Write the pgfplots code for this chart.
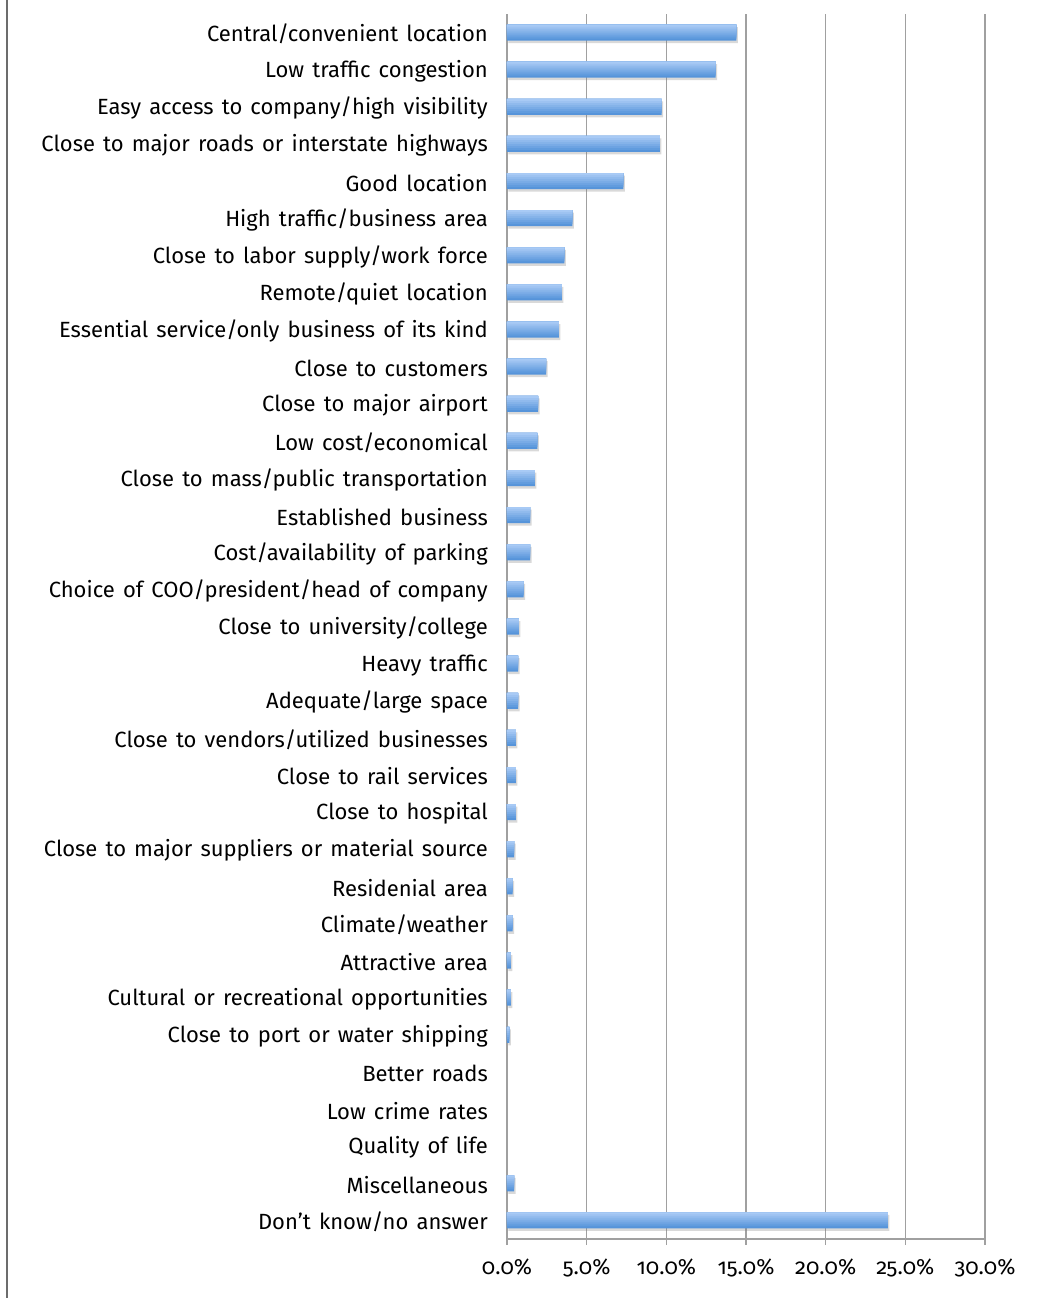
\documentclass[border=0pt]{standalone}
\usepackage{fontspec}
\setmainfont{Fira Sans}[WordSpace=1.4]
\newfontfamily\numfont{Fira Sans}[Numbers=OldStyle]
\usepackage{pgfplots}
\pgfplotsset{compat=1.18}
\usepackage{pgfplotstable}
\usetikzlibrary{shadows}
\definecolor{gridgray}{RGB}{160,160,160}
\definecolor{bartop}{RGB}{168,202,245}
\definecolor{barbot}{RGB}{86,148,218}

\pgfplotstableread{
idx val
0 14.4
1 13.1
2 9.7
3 9.6
4 7.3
5 4.1
6 3.6
7 3.45
8 3.25
9 2.45
10 1.95
11 1.9
12 1.75
13 1.45
14 1.45
15 1.05
16 0.75
17 0.7
18 0.7
19 0.55
20 0.55
21 0.55
22 0.45
23 0.35
24 0.35
25 0.25
26 0.25
27 0.15
28 0
29 0
30 0
31 0.45
32 23.9
}\datatable

\begin{document}
\begin{tikzpicture}
\useasboundingbox (-507pt,-59pt) rectangle (542pt,1239pt);
\draw[gray!85!black, line width=1.5pt] (-500pt,-59pt) -- (-500pt,1239pt);
\begin{axis}[
  at={(0pt,0pt)}, anchor=south west,
  scale only axis, width=478pt, height=1225pt,
  xmin=0, xmax=30, ymin=-0.5, ymax=32.5, y dir=reverse,
  axis lines*=left,
  axis line style={gridgray, line width=1.5pt},
  xtick={0,5,...,30},
  xmajorgrids, grid style={gridgray, line width=1.5pt},
  tick align=outside,
  major tick length=6pt,
  xtick style={gridgray, line width=1.5pt},
  ytick={0,...,32},
  ytick style={draw=none},
  minor ytick={-0.5,0.5,...,32.5},
  minor tick length=6pt,
  minor tick style={gridgray, line width=1.5pt},
  yticklabels={
    Central/convenient location,
    Low traffic congestion,
    Easy access to company/high visibility,
    Close to major roads or interstate highways,
    Good location,
    High traffic/business area,
    Close to labor supply/work force,
    Remote/quiet location,
    Essential service/only business of its kind,
    Close to customers,
    Close to major airport,
    Low cost/economical,
    Close to mass/public transportation,
    Established business,
    Cost/availability of parking,
    Choice of COO/president/head of company,
    Close to university/college,
    Heavy traffic,
    Adequate/large space,
    Close to vendors/utilized businesses,
    Close to rail services,
    Close to hospital,
    Close to major suppliers or material source,
    Residenial area,
    Climate/weather,
    Attractive area,
    Cultural or recreational opportunities,
    Close to port or water shipping,
    Better roads,
    Low crime rates,
    Quality of life,
    Miscellaneous,
    Don't know/no answer},
  yticklabel style={font=\fontsize{22}{26}\selectfont, anchor=east, inner sep=0pt, xshift=-13pt, yshift=-1.5pt},
  xticklabel={\numfont\pgfmathprintnumber[fixed,fixed zerofill,precision=1]{\tick}\%},
  xticklabel style={font=\fontsize{22}{26}\selectfont, anchor=north, inner sep=0pt, yshift=-14pt},
  /pgf/number format/assume math mode=true,
  clip=false,
  every axis plot/.append style={xbar, draw=none,
    x filter/.expression={x==0 ? nan : x}, unbounded coords=discard},
]
\addplot[bar width=16pt, bar shift=0pt, fill=barbot,
  drop shadow={shadow xshift=1.5pt, shadow yshift=-2.5pt, opacity=0.3}]
  table[x=val, y=idx] {\datatable};
\addplot[bar width=14pt, bar shift=1pt, fill=bartop!14!barbot] table[x=val, y=idx] {\datatable};
\addplot[bar width=12pt, bar shift=2pt, fill=bartop!28!barbot] table[x=val, y=idx] {\datatable};
\addplot[bar width=10pt, bar shift=3pt, fill=bartop!43!barbot] table[x=val, y=idx] {\datatable};
\addplot[bar width=8pt, bar shift=4pt, fill=bartop!57!barbot] table[x=val, y=idx] {\datatable};
\addplot[bar width=6pt, bar shift=5pt, fill=bartop!71!barbot] table[x=val, y=idx] {\datatable};
\addplot[bar width=4pt, bar shift=6pt, fill=bartop!86!barbot] table[x=val, y=idx] {\datatable};
\addplot[bar width=2pt, bar shift=7pt, fill=bartop] table[x=val, y=idx] {\datatable};
\end{axis}
\end{tikzpicture}
\end{document}
